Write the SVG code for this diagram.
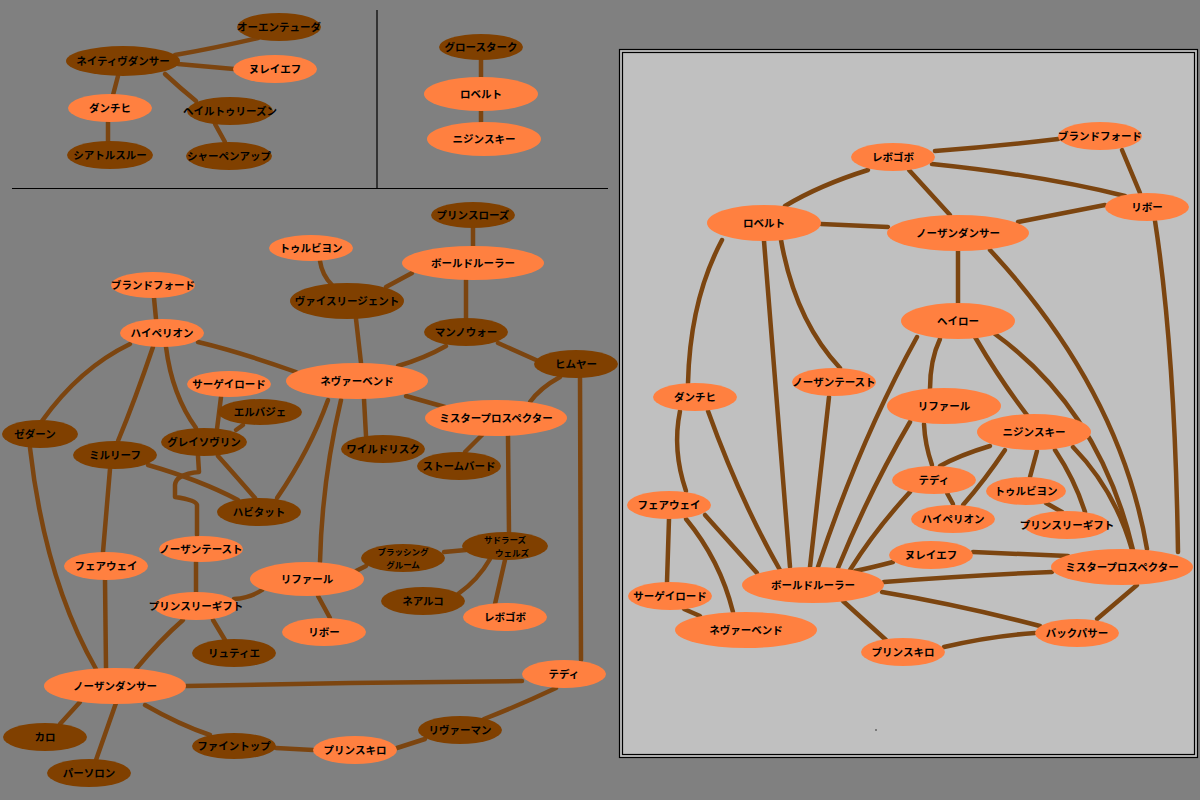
<svg xmlns="http://www.w3.org/2000/svg" width="1200" height="800" viewBox="0 0 1200 800">
<style>
.l{fill:#ff8040}
.d{fill:#804000}
text{font-family:"Noto Sans CJK JP","Noto Sans",sans-serif;font-weight:bold;font-size:10.5px;fill:#000;text-anchor:middle}
text.s{font-size:8.5px}
#connectors path{fill:none;stroke:#7c4510;stroke-width:4.5;stroke-linecap:round;stroke-linejoin:round}
.rule{stroke:#000;stroke-width:1.2;fill:none}
</style>
<rect x="0" y="0" width="1200" height="800" fill="#808080"/>
<path class="rule" d="M377,10 L377,188 M12,188.5 L608,188.5"/>
<rect x="619.5" y="49.5" width="578" height="708" fill="#c0c0c0" stroke="#000" stroke-width="1.2"/>
<rect x="622.5" y="52.5" width="572" height="702" fill="none" stroke="#000" stroke-width="1.2"/>
<circle cx="876" cy="730" r="0.7" fill="#000"/>
<g id="connectors">
<path d="M175,55 Q215,48 258,38"/>
<path d="M178,64 L234,69"/>
<path d="M118,76 L113,95"/>
<path d="M165,74 Q180,88 196,101"/>
<path d="M108,122 L108,142"/>
<path d="M215,124 L225,142"/>
<path d="M481,60 L481,77"/>
<path d="M481,111 L481,122"/>
<path d="M473,228 L473,246"/>
<path d="M320,261 Q322,275 332,285"/>
<path d="M412,273 L386,287"/>
<path d="M466,280 L466,318"/>
<path d="M356,319 L361,363"/>
<path d="M446,346 Q425,358 398,366"/>
<path d="M498,343 L536,360"/>
<path d="M198,342 Q240,352 296,372"/>
<path d="M154,298 L156,319"/>
<path d="M130,344 Q80,368 42,421"/>
<path d="M153,347 Q135,400 118,441"/>
<path d="M166,347 Q172,395 196,428"/>
<path d="M221,397 L217,429"/>
<path d="M243,425 L236,430"/>
<path d="M560,377 Q540,388 530,402"/>
<path d="M580,378 L581,660"/>
<path d="M406,396 L445,407"/>
<path d="M364,399 L366,436"/>
<path d="M328,400 Q310,450 277,498"/>
<path d="M341,400 Q322,480 320,562"/>
<path d="M482,435 L465,452"/>
<path d="M508,436 L509,532"/>
<path d="M30,448 Q45,580 96,669"/>
<path d="M110,469 L103,552"/>
<path d="M148,465 Q200,480 238,500"/>
<path d="M218,456 Q235,475 255,498"/>
<path d="M198,456 L199,472 Q176,474 175,485 L175,497 Q196,500 197,505 L197,535"/>
<path d="M105,580 L106,668"/>
<path d="M196,562 L196,592"/>
<path d="M234,599 Q250,598 262,590"/>
<path d="M213,620 L225,640"/>
<path d="M183,620 Q160,640 136,669"/>
<path d="M318,596 L330,618"/>
<path d="M356,571 L366,566"/>
<path d="M444,552 L466,550"/>
<path d="M490,559 Q478,580 458,594"/>
<path d="M505,560 L495,604"/>
<path d="M186,686 Q300,684 350,683 L522,681"/>
<path d="M80,702 L60,724"/>
<path d="M116,703 L96,760"/>
<path d="M145,705 Q180,725 210,735"/>
<path d="M276,748 L313,750"/>
<path d="M397,748 L425,739"/>
<path d="M484,719 Q520,705 556,688"/>
<path d="M935,151 Q1000,146 1058,139"/>
<path d="M932,164 Q1040,175 1125,196"/>
<path d="M1122,150 L1140,193"/>
<path d="M868,170 Q820,185 785,206"/>
<path d="M909,170 L950,215"/>
<path d="M821,224 L888,227"/>
<path d="M1105,205 L1018,222"/>
<path d="M958,251 L958,303"/>
<path d="M990,250 Q1120,390 1147,549"/>
<path d="M1155,221 Q1175,350 1178,552"/>
<path d="M722,240 Q690,300 688,383"/>
<path d="M764,241 Q775,380 790,567"/>
<path d="M781,240 Q795,320 840,368"/>
<path d="M680,411 Q672,450 686,491"/>
<path d="M708,411 Q740,500 780,570"/>
<path d="M669,519 L667,582"/>
<path d="M686,519 Q720,560 733,612"/>
<path d="M705,515 L757,573"/>
<path d="M684,609 L700,616"/>
<path d="M829,397 L810,567"/>
<path d="M917,337 Q860,440 818,567"/>
<path d="M940,339 Q930,360 930,389"/>
<path d="M975,337 Q1000,380 1027,415"/>
<path d="M995,334 Q1100,410 1133,550"/>
<path d="M910,422 Q870,490 838,568"/>
<path d="M924,424 Q925,445 932,465"/>
<path d="M990,446 Q960,455 940,466"/>
<path d="M1005,450 Q985,480 963,505"/>
<path d="M1037,451 L1030,477"/>
<path d="M1055,450 Q1075,480 1085,512"/>
<path d="M1073,447 Q1115,490 1132,550"/>
<path d="M947,493 L953,504"/>
<path d="M910,492 Q875,530 850,570"/>
<path d="M1046,503 L1062,512"/>
<path d="M973,552 L1068,556"/>
<path d="M893,562 Q870,568 855,571"/>
<path d="M884,582 Q970,575 1052,572"/>
<path d="M882,592 Q960,605 1040,626"/>
<path d="M1137,585 L1097,619"/>
<path d="M944,647 Q990,636 1035,633"/>
<path d="M843,601 L886,640"/>
</g>
<g id="t-owen-tudor"><ellipse class="d" cx="279" cy="27" rx="42" ry="14"/><text x="279" y="31">オーエンテューダ</text></g>
<g id="t-native-dancer"><ellipse class="d" cx="123" cy="61" rx="57" ry="15"/><text x="123" y="65">ネイティヴダンサー</text></g>
<g id="t-nureyev"><ellipse class="l" cx="275" cy="69" rx="42" ry="14"/><text x="275" y="73">ヌレイエフ</text></g>
<g id="t-danzig"><ellipse class="l" cx="110" cy="108" rx="42" ry="14"/><text x="110" y="112">ダンチヒ</text></g>
<g id="t-hail-to-reason"><ellipse class="d" cx="230" cy="111" rx="43" ry="14"/><text x="230" y="115">ヘイルトゥリーズン</text></g>
<g id="t-seattle-slew"><ellipse class="d" cx="110" cy="155" rx="43" ry="14"/><text x="110" y="159">シアトルスルー</text></g>
<g id="t-sharpen-up"><ellipse class="d" cx="229" cy="156" rx="43" ry="14"/><text x="229" y="160">シャーペンアップ</text></g>
<g id="m-graustark"><ellipse class="d" cx="481" cy="47" rx="42" ry="13"/><text x="481" y="51">グロースターク</text></g>
<g id="m-roberto"><ellipse class="l" cx="481" cy="94" rx="57" ry="17"/><text x="481" y="98">ロベルト</text></g>
<g id="m-nijinsky"><ellipse class="l" cx="484" cy="139" rx="57" ry="17"/><text x="484" y="143">ニジンスキー</text></g>
<g id="l-prince-rose"><ellipse class="d" cx="473" cy="215" rx="42" ry="13"/><text x="473" y="219">プリンスローズ</text></g>
<g id="l-tourbillon"><ellipse class="l" cx="311" cy="248" rx="42" ry="13"/><text x="311" y="252">トゥルビヨン</text></g>
<g id="l-bold-ruler"><ellipse class="l" cx="473" cy="263" rx="71" ry="17"/><text x="473" y="267">ボールドルーラー</text></g>
<g id="l-blandford"><ellipse class="l" cx="153" cy="285" rx="42" ry="13"/><text x="153" y="289">ブランドフォード</text></g>
<g id="l-vice-regent"><ellipse class="d" cx="347" cy="301" rx="57" ry="18"/><text x="347" y="305">ヴァイスリージェント</text></g>
<g id="l-man-o-war"><ellipse class="d" cx="466" cy="332" rx="42" ry="14"/><text x="466" y="336">マンノウォー</text></g>
<g id="l-hyperion"><ellipse class="l" cx="162" cy="333" rx="42" ry="14"/><text x="162" y="337">ハイペリオン</text></g>
<g id="l-himyar"><ellipse class="d" cx="576" cy="364" rx="42" ry="14"/><text x="576" y="368">ヒムヤー</text></g>
<g id="l-sir-gaylord"><ellipse class="l" cx="229" cy="384" rx="42" ry="13"/><text x="229" y="388">サーゲイロード</text></g>
<g id="l-never-bend"><ellipse class="l" cx="357" cy="381" rx="71" ry="18"/><text x="357" y="385">ネヴァーベンド</text></g>
<g id="l-herbager"><ellipse class="d" cx="260" cy="412" rx="42" ry="13"/><text x="260" y="416">エルバジェ</text></g>
<g id="l-mr-prospector"><ellipse class="l" cx="496" cy="418" rx="71" ry="18"/><text x="496" y="422">ミスタープロスペクター</text></g>
<g id="l-zeddaan"><ellipse class="d" cx="40" cy="434" rx="38" ry="14"/><text x="35" y="438">ゼダーン</text></g>
<g id="l-grey-sovereign"><ellipse class="d" cx="204" cy="442" rx="43" ry="14"/><text x="204" y="446">グレイソヴリン</text></g>
<g id="l-mill-reef"><ellipse class="d" cx="115" cy="455" rx="42" ry="14"/><text x="115" y="459">ミルリーフ</text></g>
<g id="l-wild-risk"><ellipse class="d" cx="383" cy="449" rx="42" ry="14"/><text x="383" y="453">ワイルドリスク</text></g>
<g id="l-storm-bird"><ellipse class="d" cx="459" cy="466" rx="42" ry="14"/><text x="459" y="470">ストームバード</text></g>
<g id="l-habitat"><ellipse class="d" cx="259" cy="512" rx="42" ry="14"/><text x="259" y="516">ハビタット</text></g>
<g id="l-northern-taste"><ellipse class="l" cx="201" cy="549" rx="42" ry="13"/><text x="201" y="553">ノーザンテースト</text></g>
<g id="l-fairway"><ellipse class="l" cx="106" cy="566" rx="42" ry="14"/><text x="106" y="570">フェアウェイ</text></g>
<g id="l-sadlers-wells"><ellipse class="d" cx="505" cy="546" rx="43" ry="14"/><text class="s" x="505" y="543">サドラーズ</text><text class="s" x="512" y="556">ウェルズ</text></g>
<g id="l-blushing-groom"><ellipse class="d" cx="403" cy="558" rx="42" ry="14"/><text class="s" x="403" y="555">ブラッシング</text><text class="s" x="403" y="568">グルーム</text></g>
<g id="l-lyphard"><ellipse class="l" cx="307" cy="579" rx="57" ry="17"/><text x="307" y="583">リファール</text></g>
<g id="l-nearco"><ellipse class="d" cx="423" cy="601" rx="42" ry="14"/><text x="423" y="605">ネアルコ</text></g>
<g id="l-princely-gift"><ellipse class="l" cx="196" cy="606" rx="42" ry="14"/><text x="196" y="610">プリンスリーギフト</text></g>
<g id="l-red-god"><ellipse class="l" cx="505" cy="617" rx="42" ry="14"/><text x="505" y="621">レボゴボ</text></g>
<g id="l-ribot"><ellipse class="l" cx="324" cy="632" rx="42" ry="14"/><text x="324" y="636">リボー</text></g>
<g id="l-luthier"><ellipse class="d" cx="234" cy="653" rx="42" ry="14"/><text x="234" y="657">リュティエ</text></g>
<g id="l-teddy"><ellipse class="l" cx="564" cy="674" rx="42" ry="14"/><text x="564" y="678">テディ</text></g>
<g id="l-northern-dancer"><ellipse class="l" cx="115" cy="686" rx="71" ry="18"/><text x="115" y="690">ノーザンダンサー</text></g>
<g id="l-riverman"><ellipse class="d" cx="460" cy="730" rx="42" ry="14"/><text x="460" y="734">リヴァーマン</text></g>
<g id="l-caro"><ellipse class="d" cx="45" cy="737" rx="42" ry="14"/><text x="45" y="741">カロ</text></g>
<g id="l-fine-top"><ellipse class="d" cx="234" cy="746" rx="42" ry="13"/><text x="234" y="750">ファイントップ</text></g>
<g id="l-princequillo"><ellipse class="l" cx="355" cy="750" rx="42" ry="14"/><text x="355" y="754">プリンスキロ</text></g>
<g id="l-partholon"><ellipse class="d" cx="89" cy="773" rx="42" ry="14"/><text x="89" y="777">パーソロン</text></g>
<g id="r-red-god"><ellipse class="l" cx="893" cy="157" rx="42" ry="14"/><text x="893" y="161">レボゴボ</text></g>
<g id="r-blandford"><ellipse class="l" cx="1100" cy="136" rx="42" ry="14"/><text x="1100" y="140">ブランドフォード</text></g>
<g id="r-ribot"><ellipse class="l" cx="1147" cy="207" rx="42" ry="14"/><text x="1147" y="211">リボー</text></g>
<g id="r-roberto"><ellipse class="l" cx="764" cy="223" rx="57" ry="18"/><text x="764" y="227">ロベルト</text></g>
<g id="r-northern-dancer"><ellipse class="l" cx="958" cy="233" rx="71" ry="18"/><text x="958" y="237">ノーザンダンサー</text></g>
<g id="r-halo"><ellipse class="l" cx="958" cy="321" rx="57" ry="18"/><text x="958" y="325">ヘイロー</text></g>
<g id="r-danzig"><ellipse class="l" cx="695" cy="397" rx="42" ry="14"/><text x="695" y="401">ダンチヒ</text></g>
<g id="r-northern-taste"><ellipse class="l" cx="834" cy="382" rx="42" ry="14"/><text x="834" y="386">ノーザンテースト</text></g>
<g id="r-lyphard"><ellipse class="l" cx="944" cy="406" rx="57" ry="18"/><text x="944" y="410">リファール</text></g>
<g id="r-nijinsky"><ellipse class="l" cx="1034" cy="432" rx="57" ry="18"/><text x="1034" y="436">ニジンスキー</text></g>
<g id="r-teddy"><ellipse class="l" cx="934" cy="480" rx="42" ry="14"/><text x="934" y="484">テディ</text></g>
<g id="r-tourbillon"><ellipse class="l" cx="1026" cy="491" rx="40" ry="14"/><text x="1026" y="495">トゥルビヨン</text></g>
<g id="r-fairway"><ellipse class="l" cx="669" cy="505" rx="42" ry="14"/><text x="669" y="509">フェアウェイ</text></g>
<g id="r-hyperion"><ellipse class="l" cx="953" cy="519" rx="42" ry="14"/><text x="953" y="523">ハイペリオン</text></g>
<g id="r-princely-gift"><ellipse class="l" cx="1067" cy="525" rx="43" ry="14"/><text x="1067" y="529">プリンスリーギフト</text></g>
<g id="r-nureyev"><ellipse class="l" cx="931" cy="555" rx="42" ry="14"/><text x="931" y="559">ヌレイエフ</text></g>
<g id="r-mr-prospector"><ellipse class="l" cx="1122" cy="567" rx="71" ry="18"/><text x="1122" y="571">ミスタープロスペクター</text></g>
<g id="r-bold-ruler"><ellipse class="l" cx="813" cy="585" rx="71" ry="18"/><text x="813" y="589">ボールドルーラー</text></g>
<g id="r-sir-gaylord"><ellipse class="l" cx="670" cy="596" rx="42" ry="14"/><text x="670" y="600">サーゲイロード</text></g>
<g id="r-never-bend"><ellipse class="l" cx="746" cy="630" rx="71" ry="18"/><text x="746" y="634">ネヴァーベンド</text></g>
<g id="r-buckpasser"><ellipse class="l" cx="1077" cy="633" rx="42" ry="14"/><text x="1077" y="637">バックパサー</text></g>
<g id="r-princequillo"><ellipse class="l" cx="903" cy="652" rx="42" ry="14"/><text x="903" y="656">プリンスキロ</text></g>
</svg>
